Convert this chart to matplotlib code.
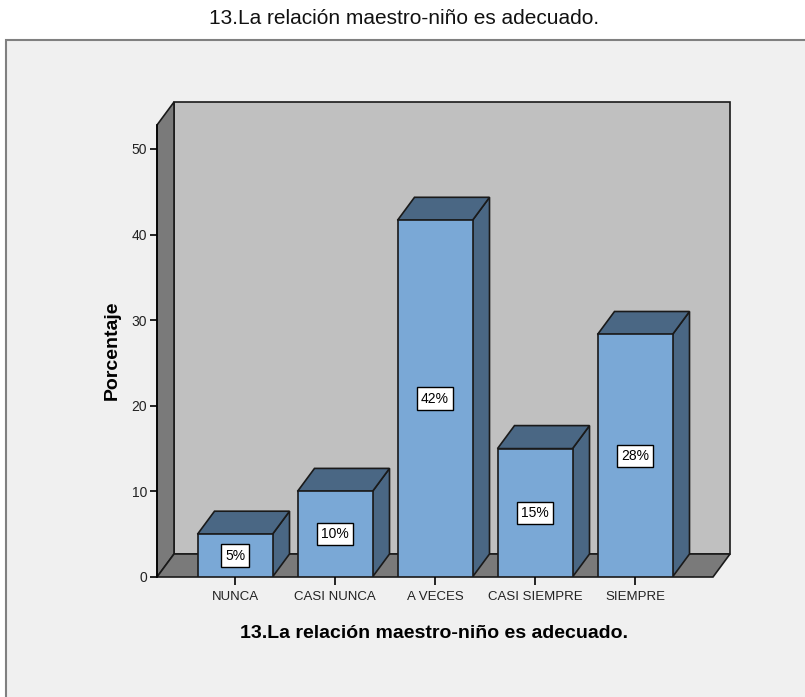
import numpy as np
import matplotlib
matplotlib.use("Agg")
import matplotlib.pyplot as plt
from matplotlib.patches import Polygon, Rectangle

# -------------------- datos --------------------
categorias = ["NUNCA", "CASI NUNCA", "A VECES", "CASI SIEMPRE", "SIEMPRE"]
porcentajes = [5.0, 10.0, 41.67, 15.0, 28.33]
etiquetas = ["5%", "10%", "42%", "15%", "28%"]
yticks = [0, 10, 20, 30, 40, 50]
titulo = "13.La relación maestro-niño es adecuado."

# -------------------- estilo --------------------
C_FRENTE = "#7aa8d6"
C_LADO = "#4a6784"
C_FONDO = "#c0c0c0"
C_PARED = "#7a7a7a"
C_PANEL = "#f0f0f0"
ARIAL = ["Liberation Sans", "DejaVu Sans"]

W, H = 805, 697
fig = plt.figure(figsize=(W / 100, H / 100), dpi=100)
fig.patch.set_facecolor("white")

# panel gris (estilo SPSS)
fig.patches.append(Rectangle((6 / W, -0.01), 1, (H - 40) / H + 0.01, transform=fig.transFigure,
                             fc=C_PANEL, ec="#808080", lw=1.5, zorder=-10))
fig.text(404 / W, 1 - 19 / H, titulo, ha="center", va="center",
         fontsize=15, family=ARIAL, color="#111111")

# ejes en pixeles -> datos
px_x0, px_x1 = 157, 745     # izquierda/derecha de los ejes
px_y0, px_y1 = 577, 95      # cero y parte superior
x_left = -0.78
xs = 100.0                  # px por categoria
ys = 8.56                   # px por unidad de porcentaje
ax = fig.add_axes([px_x0 / W, 1 - px_y0 / H, (px_x1 - px_x0) / W, (px_y0 - px_y1) / H])
ax.set_zorder(1)
ax.set_xlim(x_left, x_left + (px_x1 - px_x0) / xs)
ax.set_ylim(0, (px_y0 - px_y1) / ys)
ax.patch.set_alpha(0)

dx = 17 / xs                # profundidad 3D
dy = 23 / ys
x_right = 4.78
y_top = 52.8
ec = "#1a1a1a"

# pared del fondo, pared izquierda, piso
kw = dict(ec=ec, lw=1.2, zorder=1, clip_on=False)
ax.add_patch(Rectangle((x_left + dx, dy), x_right - x_left, y_top, fc=C_FONDO, **kw))
ax.add_patch(Polygon([(x_left, 0), (x_left, y_top), (x_left + dx, y_top + dy), (x_left + dx, dy)],
                     closed=True, fc=C_PARED, **kw))
ax.add_patch(Polygon([(x_left, 0), (x_right, 0), (x_right + dx, dy), (x_left + dx, dy)],
                     closed=True, fc=C_PARED, **kw))

# barras
x = np.arange(len(categorias))
bw = 0.75
for i, v in enumerate(porcentajes):
    xl, xr = x[i] - bw / 2, x[i] + bw / 2
    ax.add_patch(Polygon([(xr, 0), (xr + dx, dy), (xr + dx, v + dy), (xr, v)],
                         closed=True, fc=C_LADO, ec=ec, lw=1.2, zorder=2))
    ax.add_patch(Polygon([(xl, v), (xr, v), (xr + dx, v + dy), (xl + dx, v + dy)],
                         closed=True, fc=C_LADO, ec=ec, lw=1.2, zorder=2))
ax.bar(x, porcentajes, width=bw, color=C_FRENTE, edgecolor=ec, linewidth=1.2, zorder=3)
for i, v in enumerate(porcentajes):
    ax.text(x[i], v / 2, etiquetas[i], ha="center", va="center", fontsize=10, family=ARIAL, zorder=4,
            bbox=dict(boxstyle="square,pad=0.3", fc="white", ec="black", lw=1))

# ejes
for s in ["top", "right", "bottom"]:
    ax.spines[s].set_visible(False)
ax.spines["left"].set_position(("data", x_left))
ax.spines["left"].set_bounds(0, y_top)
ax.spines["left"].set_linewidth(1.2)
ax.spines["left"].set_zorder(5)
ax.set_yticks(yticks)
ax.set_yticklabels([str(t) for t in yticks], family=ARIAL, fontsize=10, color="#222222")
ax.tick_params(axis="y", length=5, width=1.2, pad=2)
ax.set_xticks(x)
ax.set_xticklabels(categorias, family=ARIAL, fontsize=9.5, color="#222222")
ax.tick_params(axis="x", length=6, width=1.2, pad=4, direction="out")
ax.set_ylabel("Porcentaje", fontsize=14, fontweight="bold", family=ARIAL)
ax.yaxis.set_label_coords((112 - px_x0) / (px_x1 - px_x0), (px_y0 - 350) / (px_y0 - px_y1))
ax.yaxis.label.set_va("center")
ax.set_xlabel(titulo, fontsize=14, fontweight="bold", family=ARIAL)
ax.xaxis.set_label_coords((434 - px_x0) / (px_x1 - px_x0), -(633 - px_y0) / (px_y0 - px_y1))
ax.xaxis.label.set_va("center")

fig.savefig("out.png", dpi=100, facecolor=fig.get_facecolor())
